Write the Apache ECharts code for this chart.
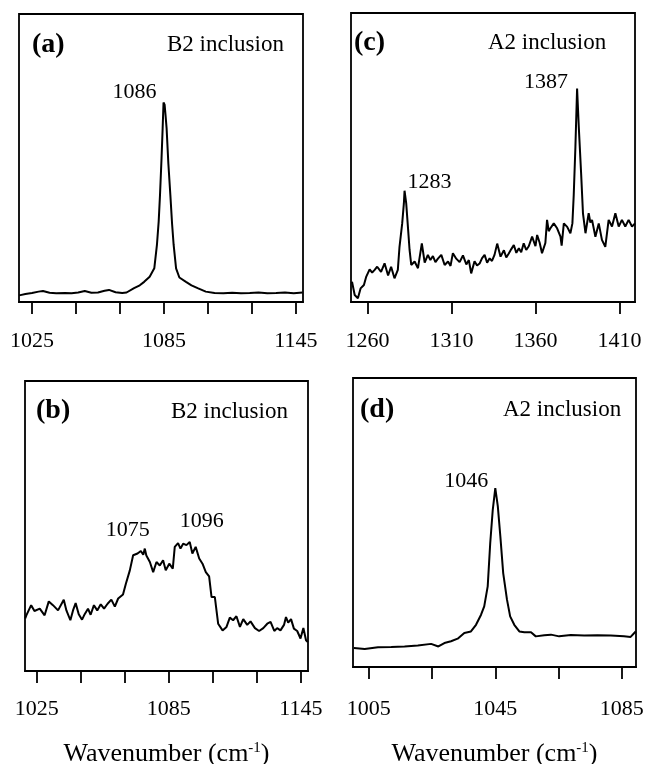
<!DOCTYPE html>
<html lang="en">
<head>
<meta charset="UTF-8">
<title>Raman spectra of inclusions</title>
<script src="https://cdn.jsdelivr.net/npm/echarts@6/dist/echarts.min.js"></script>
<style>
  html, body { margin: 0; padding: 0; background: #fff; }
  #main { width: 648px; height: 764px; }
</style>
</head>
<body>
<div id="main"></div>
<script>
// (a) B2 inclusion
var aWave = [1019.2,1022,1025,1028,1030,1033,1036,1040,1043,1046,1049,1052,1055,1058,1060,1063,1066,1068,1071.4,1074,1076,1078.5,1080.6,1081.8,1082.6,1083.2,1083.9,1084.4,1084.8,1085.3,1085.7,1086.2,1087,1087.9,1088.7,1089.4,1090.5,1092,1095,1097.5,1100.3,1104,1108,1112,1116,1120,1124,1128,1132,1136,1140,1144,1148];
var aInt  = [2.3,2.8,3.1,3.6,3.8,3.2,3.0,3.1,3.0,3.3,3.8,3.2,3.3,3.9,4.2,3.4,3.1,3.3,4.8,5.8,7.0,8.8,11.7,19.8,28,37.2,50,60.3,69.3,68.5,65,60.3,48,37.2,27,19.8,11.7,8.5,7.0,5.8,4.8,3.6,3.1,3.0,3.2,3.0,3.1,3.3,3.0,3.1,3.3,3.0,3.3];

// (c) A2 inclusion
var cWave = [1250.7,1252.3,1254.2,1255.8,1257.8,1259.2,1261.2,1262.7,1264.2,1265.7,1268,1270.1,1272.2,1274,1276,1278,1279,1280.6,1281.6,1282,1283,1284,1285,1286,1288,1290,1292.3,1294,1295.9,1297.4,1298.9,1300.4,1301.9,1303.9,1305.9,1307.9,1309.4,1310.8,1312.8,1314.8,1316.8,1318.8,1320.3,1321.7,1323.7,1325.2,1326.7,1328.2,1329.7,1331.2,1332.7,1334.1,1335.6,1337.2,1339.2,1341.2,1342.6,1344.1,1345.6,1347.1,1348.6,1350.1,1351.5,1353,1354.5,1356,1358,1360,1361,1362.5,1363.9,1365.9,1366.9,1367.9,1368.9,1370.9,1372.9,1374.9,1375.6,1376.9,1378.9,1380.8,1382,1382.8,1383.8,1384.8,1385.8,1387.2,1388.3,1389.8,1391.7,1392.7,1393.7,1395.7,1397.7,1399.6,1401.6,1403.6,1405.6,1407.6,1409.6,1411.5,1413.5,1415.5,1417.5,1419.3];
var cInt  = [7.0,2.4,1.3,4.7,5.9,8.8,11.3,10.2,11.1,12.2,10.4,13.4,9.2,12.2,8.2,11.1,19.1,27.2,34.1,38.5,34.1,26.1,18,12.8,14,11.7,20.3,13.6,16.3,14.5,15.9,13.8,15,16.3,12.8,14,12.5,16.9,15,13.8,16.1,13,14.5,9.9,14.1,12.6,13.3,15.2,16.3,13.6,15.1,14.2,16.3,20.2,15.7,17.9,15.4,16.8,18.3,19.7,17.0,18.6,17.2,20.3,18.0,19.3,22.6,19.3,23.2,20.5,16.9,20.4,28.4,24.5,25.5,27.2,25.5,22.6,19.5,27.2,26,23.8,27.2,37,53.7,73.9,60.7,44.5,30.7,23.8,30.7,27.5,28.4,22.6,27.2,21.5,19.1,28.4,26.1,30.7,26.1,28.4,26.1,28.4,26.1,27.2];

// (b) B2 inclusion
var bWave = [1019.8,1020.3,1022.5,1024,1026.4,1028.6,1030.5,1032.4,1034.7,1037.3,1038.5,1040.3,1041.5,1042.7,1044.1,1045.6,1046.8,1048.3,1049.5,1051,1052.5,1054.1,1055.6,1057.2,1058.9,1060.5,1062,1064.2,1065.5,1067.3,1068.8,1070.8,1072.3,1073.4,1074.1,1074.8,1076.4,1077.9,1079.4,1080.9,1082.4,1083.6,1085.2,1086.8,1087.7,1089.2,1090.3,1091.5,1093,1094.5,1095.7,1097.2,1098.8,1100.3,1101.8,1103.3,1104.4,1105.9,1107.4,1109.4,1111.2,1112.7,1114.2,1115.7,1117.3,1118.8,1120.6,1122.1,1124.1,1126,1127.9,1129.7,1131.2,1132.9,1134.2,1135.7,1137.3,1138.2,1139.2,1140.5,1141.8,1143.3,1144.8,1146.1,1147.3,1148.1];
var bInt  = [18.1,19.2,22.7,20.7,21.5,19.2,24,22.7,20.9,24.6,20.9,17.5,20.9,23.4,19.6,17.7,19.6,21.5,19.4,22.7,20.9,23,21.5,23.2,24.6,22.2,25,26.4,30.1,34.7,39.9,40.5,41.4,40.1,42.2,39.8,37.6,34.1,37.6,36.4,38.2,34.7,37.0,35.3,42.8,44.1,42.2,43.9,43.4,44.5,40.5,42.8,38.8,37,34.1,32.6,25.5,25.5,16.3,14,15.2,18.4,17.5,18.9,15.2,17.9,15.9,17.1,14.8,13.8,14.8,16.3,16.9,13.8,14.8,14,15.9,18.6,16.7,17.9,14.6,13.8,11.2,14.8,10.6,10.0];

// (d) A2 inclusion
var dWave = [1000.3,1003.7,1007.9,1012.1,1016.3,1020.5,1024.7,1027,1028.9,1031,1033.1,1035.2,1037.3,1038.9,1040.5,1041.5,1042.6,1043.4,1044.2,1045,1045.8,1046.6,1047.5,1048.7,1049.7,1051,1052.6,1054.2,1056.3,1057.8,1060.5,1062.6,1065.2,1068.9,1073.1,1077.3,1081.5,1085.7,1087.8,1089.4];
var dInt  = [6.6,6.2,6.8,6.9,7.1,7.4,8.0,7.1,8.3,8.9,9.8,11.8,12.3,14.6,18.1,21.0,27.9,42.9,54.4,61.9,55.6,45.2,32.5,23.3,17.5,14.6,12.3,12.0,12.0,10.6,11.0,11.2,10.6,11.1,10.9,11.0,10.9,10.6,10.4,12.3];

// ticks and tick labels
var ticksAB  = [1025, 1045, 1065, 1085, 1105, 1125, 1145];
var labelsAB = [1025, 1085, 1145];
var ticksC   = [1260, 1310, 1360, 1410];
var ticksD   = [1005, 1025, 1045, 1065, 1085];
var labelsD  = [1005, 1045, 1085];

// peak annotations: [text, wavenumber, intensity]
var peaksA = [['1086', 1084.8, 69.3]];
var peaksC = [['1283', 1282, 38.5], ['1387', 1384.8, 73.9]];
var peaksB = [['1075', 1074.1, 42.2], ['1096', 1094.5, 44.5]];
var peaksD = [['1046', 1045, 61.9]];

var serif = '"Liberation Serif", "Times New Roman", serif';

function pairs(xs, ys) {
    return xs.map(function (x, i) { return [x, ys[i]]; });
}

function peakMarks(peaks, offsets) {
    return {
        symbol: 'circle',
        symbolSize: 0,
        silent: true,
        label: { show: true, position: 'inside', formatter: '{b}', color: '#000', fontFamily: serif, fontSize: 22 },
        data: peaks.map(function (p, i) {
            return { name: p[0], coord: [p[1], p[2]], label: { offset: offsets[i] } };
        })
    };
}

function xAxisFor(idx, min, max, ticks, labels, margin, withName, gap) {
    var ax = {
        type: 'value', gridIndex: idx, min: min, max: max,
        axisLine: { show: true, onZero: false, lineStyle: { color: '#000', width: 1.8 } },
        axisTick: { show: true, inside: false, length: 12, customValues: ticks, lineStyle: { color: '#000', width: 1.8 } },
        axisLabel: {
            customValues: labels, margin: margin, color: '#000', fontFamily: serif, fontSize: 22,
            formatter: function (v) { return String(v); }
        },
        splitLine: { show: false }
    };
    if (withName) {
        ax.name = 'Wavenumber (cm{sup|-1})';
        ax.nameLocation = 'middle';
        ax.nameGap = gap;
        ax.nameTextStyle = {
            color: '#000', fontFamily: serif, fontSize: 26,
            rich: { sup: { fontFamily: serif, fontSize: 15, verticalAlign: 'top', color: '#000' } }
        };
    }
    return ax;
}

function yAxisFor(idx) {
    return { type: 'value', gridIndex: idx, min: 0, max: 100, show: false };
}

function lineSeries(idx, xs, ys, width, marks) {
    return {
        type: 'line', xAxisIndex: idx, yAxisIndex: idx,
        data: pairs(xs, ys), symbol: 'none', silent: true,
        lineStyle: { color: '#000', width: width },
        markPoint: marks
    };
}

// panel captions: text, x, y, bold
var captions = [
    ['(a)', 32, 45, true], ['B2 inclusion', 167, 45, false],
    ['(c)', 354, 43, true], ['A2 inclusion', 488, 43, false],
    ['(b)', 36, 411, true], ['B2 inclusion', 171, 412, false],
    ['(d)', 360, 410, true], ['A2 inclusion', 503, 410, false]
];

var chartDom = document.getElementById('main');
var myChart = echarts.init(chartDom);

var gridBox = { show: true, borderColor: '#000', borderWidth: 1.8, outerBoundsMode: 'none' };
var option = {
    animation: false,
    grid: [
        Object.assign({ left: 19, top: 14, width: 284, height: 288 }, gridBox),
        Object.assign({ left: 351, top: 13, width: 284, height: 289 }, gridBox),
        Object.assign({ left: 25, top: 381, width: 283, height: 290 }, gridBox),
        Object.assign({ left: 353, top: 378, width: 283, height: 289 }, gridBox)
    ],
    xAxis: [
        xAxisFor(0, 1019.1, 1148.2, ticksAB, labelsAB, 28, false),
        xAxisFor(1, 1250.1, 1419.3, ticksC, ticksC, 28, false),
        xAxisFor(2, 1019.7, 1148.2, ticksAB, labelsAB, 27, true, 70),
        xAxisFor(3, 1000, 1089.5, ticksD, labelsD, 31, true, 74)
    ],
    yAxis: [yAxisFor(0), yAxisFor(1), yAxisFor(2), yAxisFor(3)],
    graphic: captions.map(function (c) {
        return {
            type: 'text', x: c[1], y: c[2], silent: true,
            style: {
                text: c[0], fill: '#000',
                font: (c[3] ? 'bold 28px ' : '23px ') + serif,
                align: 'left', verticalAlign: 'middle'
            }
        };
    }),
    series: [
        lineSeries(0, aWave, aInt, 2, peakMarks(peaksA, [[-29, -10]])),
        lineSeries(1, cWave, cInt, 2, peakMarks(peaksC, [[25, -9], [-31, -6]])),
        lineSeries(2, bWave, bInt, 2, peakMarks(peaksB, [[-17, -18], [12, -21]])),
        lineSeries(3, dWave, dInt, 2, peakMarks(peaksD, [[-29, -7]]))
    ]
};

option && myChart.setOption(option);
</script>
</body>
</html>
